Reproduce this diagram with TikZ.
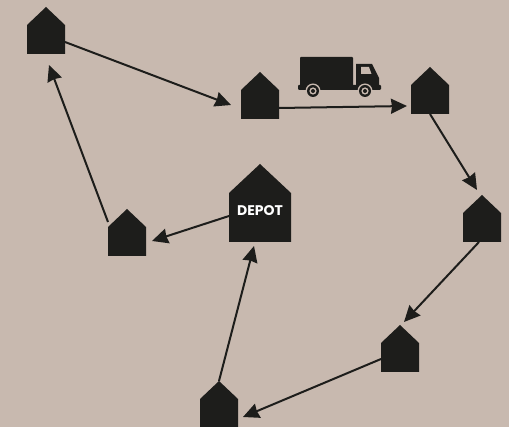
\documentclass[tikz,border=0pt]{standalone}
\usepackage{fontspec}
\setmainfont{Poppins}
\usetikzlibrary{arrows.meta}
\definecolor{bgc}{HTML}{C8B9AF}
\definecolor{ink}{HTML}{1D1D1B}
\tikzset{
  x=1pt,y=-1pt,
  housebox/.style={draw=none,fill=none,inner sep=0pt,outer sep=0pt,minimum width=38pt,minimum height=47pt},
  depotbox/.style={draw=none,fill=none,inner sep=0pt,outer sep=0pt,minimum width=62pt,minimum height=65pt,text=white,font=\fontsize{14}{14}\selectfont\bfseries},
  conn/.style={draw=ink,line width=2pt,-{Stealth[length=16pt,width=15pt,inset=1pt]}},
}
\newcommand{\smallhouse}[3]{%
  \fill[ink] (#2-19,#3+23.5) -- (#2+19,#3+23.5) -- (#2+19,#3-5.5) -- (#2,#3-23.5) -- (#2-19,#3-5.5) -- cycle;
  \node[housebox] (#1) at (#2,#3) {};
}
\begin{document}
\begin{tikzpicture}
\useasboundingbox (0,0) rectangle (509,427);
\fill[bgc] (0,0) rectangle (509,427);
% houses
\smallhouse{hA}{46}{30.5}
\smallhouse{hB}{260}{95.5}
\smallhouse{hC}{430}{90.5}
\smallhouse{hD}{482}{218.5}
\smallhouse{hE}{400}{348.5}
\smallhouse{hF}{219}{404.5}
\smallhouse{hG}{127}{232.5}
% depot
\fill[ink] (229,242) -- (291,242) -- (291,193) -- (260,164) -- (229,193) -- cycle;
\node[depotbox] (depot) at (260,210.5) {DEPOT};
% truck
\fill[ink,rounded corners=1pt] (300,86) -- (300,57) -- (353,57) -- (353,86) -- cycle;
\fill[ink,rounded corners=1pt] (298,85) -- (381,85) -- (381,90) -- (298,90) -- cycle;
\fill[ink] (356,86) -- (356,64) -- (372,64) -- (379,78) -- (379,86) -- cycle;
\fill[bgc] (361,67) -- (369,67) -- (371.5,74) -- (361,74) -- cycle;
\foreach \wx in {313,365} {
  \fill[bgc] (\wx,91) circle (7.5);
  \fill[ink] (\wx,91) circle (6);
  \fill[bgc] (\wx,91) circle (3.6);
  \fill[ink] (\wx,91) circle (2);
}
% connectors
\draw[conn] ([shift={(19,11.5)}]hA.center) -- ([shift={(-29,9.5)}]hB.center);
\draw[conn] ([shift={(19,12.5)}]hB.center) -- ([shift={(-23,15.5)}]hC.center);
\draw[conn] ([shift={(0,23.5)}]hC.center) -- ([shift={(-5,-28.5)}]hD.center);
\draw[conn] ([shift={(-3,23.5)}]hD.center) -- ([shift={(4,-26.5)}]hE.center);
\draw[conn] ([shift={(-19,10.5)}]hE.center) -- ([shift={(24,12.5)}]hF.center);
\draw[conn] ([shift={(0,-23.5)}]hF.center) -- ([shift={(-6,35.5)}]depot.center);
\draw[conn] ([shift={(-31,5.5)}]depot.center) -- ([shift={(25,8.5)}]hG.center);
\draw[conn] ([shift={(-19,-10.5)}]hG.center) -- ([shift={(3,34.5)}]hA.center);
\end{tikzpicture}
\end{document}
